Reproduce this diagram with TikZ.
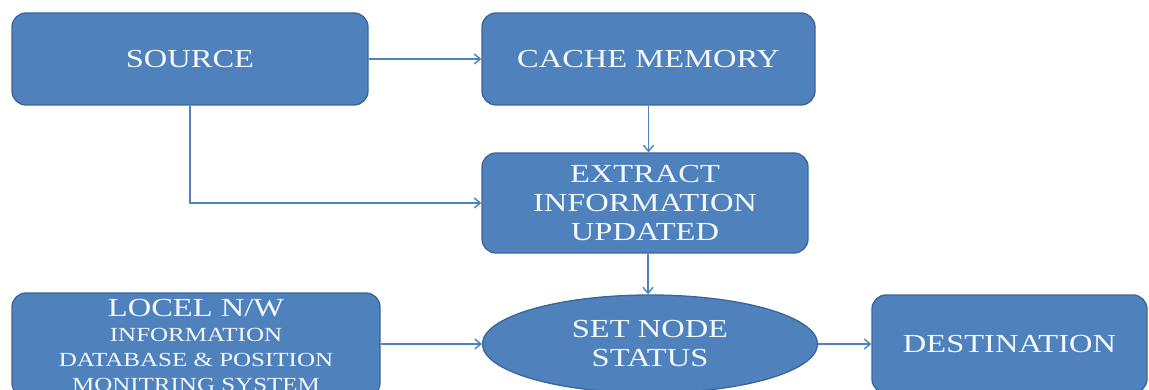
\documentclass[tikz,border=0pt]{standalone}
\usepackage{fontspec}
\setmainfont{Liberation Serif}[FakeStretch=1.25]
\usetikzlibrary{shapes.geometric,arrows.meta}
\definecolor{boxfill}{HTML}{4F81BD}
\definecolor{boxline}{HTML}{3A6596}
\definecolor{boxtext}{HTML}{F4F8FF}
\begin{document}
\begin{tikzpicture}[x=1pt, y=-1pt, >={Straight Barb[length=6pt,width=10pt]},
    font=\fontsize{26}{29}\selectfont]
      \tikzset{box/.style={draw=boxline, line width=1.3pt, fill=boxfill, text=boxtext, rounded corners=14pt, inner sep=0pt, align=center},
        link/.style={->, draw=boxfill, line width=1.4pt}}
      \useasboundingbox (0,0) rectangle (1149,390);
      \node[box, minimum width=356pt, minimum height=92pt] (source) at (190,59) {SOURCE};
      \node[box, minimum width=333pt, minimum height=92pt] (cache) at (648.5,59) {CACHE MEMORY};
      \node[box, minimum width=326pt, minimum height=100pt] (extract) at (645,203) {EXTRACT\\INFORMATION\\UPDATED};
      \node[box, minimum width=368pt, minimum height=104pt, font=\fontsize{20}{25}\selectfont] (local) at (196,345)
        {{\fontsize{26}{25}\selectfont LOCEL N/W}\\INFORMATION\\DATABASE \& POSITION\\MONITRING SYSTEM};
      \node[box, ellipse, minimum width=335pt, minimum height=98pt] (status) at (650,344) {SET NODE\\STATUS};
      \node[box, minimum width=275pt, minimum height=98pt] (dest) at (1009.5,344) {DESTINATION};
      \draw[link] (source) -- (cache);
      \draw[link] (cache.south) -- (cache.south |- extract.north);
      \draw[link] (source.south) |- (extract.west);
      \draw[link] (extract.south -| 648,0) -- (648,0 |- status.north);
      \draw[link] (local.east |- status.west) -- (status.west);
      \draw[link] (status) -- (dest);
    \end{tikzpicture}
\end{document}
